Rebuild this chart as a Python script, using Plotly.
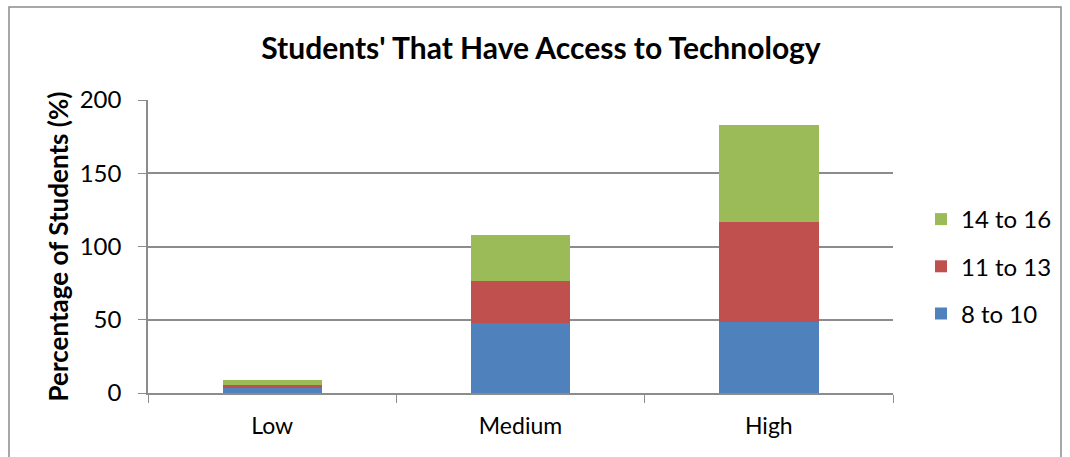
import plotly.graph_objects as go

categories = ["Low", "Medium", "High"]
series_names = ["8 to 10", "11 to 13", "14 to 16"]
vals_8_10 = [3.7, 48.0, 48.2]
vals_11_13 = [1.8, 28.6, 68.4]
vals_14_16 = [3.2, 31.0, 66.0]
colors = ["#4F81BD", "#C0504D", "#9BBB59"]
y_ticks = [0, 50, 100, 150, 200]

FONT = "Lato"
fig = go.Figure()
for i, (name, vals, c) in enumerate(zip(series_names, [vals_8_10, vals_11_13, vals_14_16], colors)):
    fig.add_trace(go.Bar(x=categories, y=vals, name=name, legendgroup=name, legendrank=10 - i,
                         marker=dict(color=c, line=dict(width=0))))

L, R, T, B = 148, 893, 100, 393
W, H = 1070, 457
pw, ph = R - L, B - T

def px_x(x):
    return (x - L) / pw

def px_y(y):
    return (B - y) / ph

fig.update_layout(
    width=W, height=H,
    margin=dict(l=L, r=W - R, t=T, b=H - B, pad=0, autoexpand=False),
    barmode="stack", bargap=0.6,
    plot_bgcolor="white", paper_bgcolor="white",
    font=dict(family=FONT, color="black", size=23),
    title=dict(text="<b>Students' That Have Access to Technology</b>", x=541 / W,
               xanchor="center", y=1 - 48 / H, yanchor="middle", font=dict(size=30, family=FONT)),
    legend=dict(x=px_x(921), xanchor="left", y=px_y(197), yanchor="top", traceorder="grouped",
                font=dict(size=24), itemwidth=30, tracegroupgap=13, bgcolor="rgba(0,0,0,0)"),
    showlegend=True,
    yaxis=dict(range=[0, 200], tickvals=y_ticks, showgrid=True, gridcolor="#8C8C8C", gridwidth=1.5,
               showline=True, linecolor="#8C8C8C", linewidth=1.5, ticks="outside", ticklen=8,
               tickcolor="#8C8C8C", zeroline=False, tickfont=dict(size=24), ticklabelstandoff=12,
               title=dict(text="<b>Percentage of Students (%)</b>", font=dict(size=26), standoff=4)),
    xaxis=dict(showline=True, linecolor="#8C8C8C", linewidth=1.5, ticks="outside", ticklen=8,
               tickcolor="#8C8C8C", tickson="boundaries", showgrid=False, tickfont=dict(size=23),
               ticklabelstandoff=12),
    shapes=[dict(type="rect", xref="paper", yref="paper", x0=px_x(9), x1=px_x(1061), y0=px_y(470), y1=px_y(7),
                 line=dict(color="#8C8C8C", width=1.5), layer="below")],
)
fig.write_html("out.html")
